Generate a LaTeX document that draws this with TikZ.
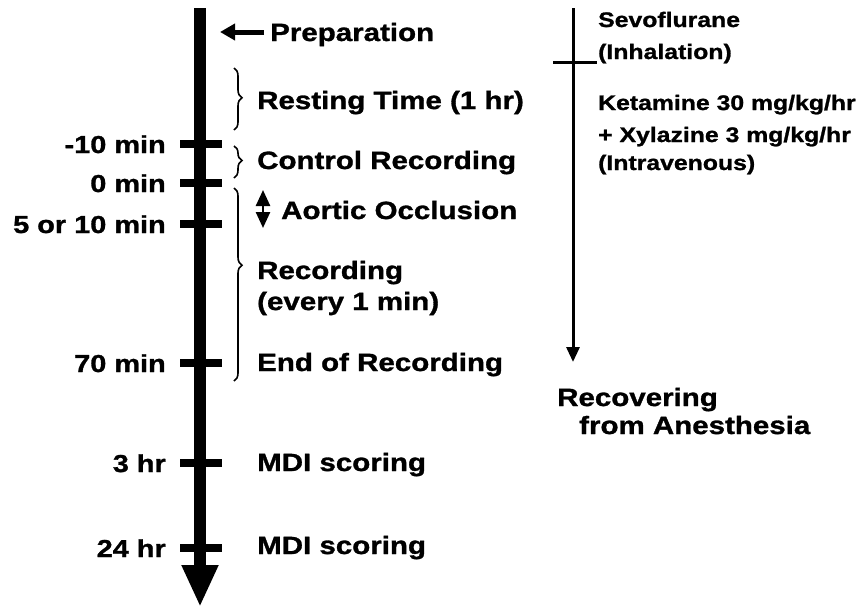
\documentclass[tikz,border=0pt]{standalone}
\usepackage{fontspec}
\setmainfont{Liberation Sans}[FakeStretch=1.18,FakeBold=1.2]
\usetikzlibrary{arrows.meta,decorations.pathreplacing}
\begin{document}
\begin{tikzpicture}[x=1pt,y=-1pt,
  lbl/.style={font=\bfseries\fontsize{25}{30}\selectfont, inner sep=0pt, anchor=base west},
  tlbl/.style={font=\bfseries\fontsize{24.5}{30}\selectfont, inner sep=0pt, anchor=base east},
  rlbl/.style={font=\bfseries\fontsize{21}{26}\selectfont, inner sep=0pt, anchor=base west},
  tickbar/.style={line width=8pt},
  brc/.style={decorate, line width=1.6pt}]
\useasboundingbox (0,0) rectangle (865,611);

% main timeline
\coordinate (mtop) at (200,8);
\coordinate (mend) at (200,607);
\draw[line width=12pt, -{Triangle[length=42pt,width=34pt]}] (mtop) -- (mend);

% ticks
\draw[tickbar] (180,144) -- (222,144);
\draw[tickbar] (180,183) -- (222,183);
\draw[tickbar] (180,224) -- (222,224);
\draw[tickbar] (180,363) -- (222,363);
\draw[tickbar] (180,463) -- (222,463);
\draw[tickbar] (180,548) -- (222,548);

% left time labels
\node[tlbl] (m10) at (166,153) {-10 min};
\node[tlbl] (m0) at (166,192) {0 min};
\node[tlbl] (m5) at (166,233) {5 or 10 min};
\node[tlbl] (m70) at (166,372) {70 min};
\node[tlbl] (h3) at (166,472) {3 hr};
\node[tlbl] (h24) at (166,557) {24 hr};

% preparation
\node[lbl] (prep) at (270,41) {Preparation};
\coordinate (prepTip) at (220,32);
\draw[line width=5pt, -{Triangle[length=15pt,width=16pt]}] (prep.west |- prepTip) ++(-6,0) -- (prepTip);

% braces
\draw[brc, decoration={brace, amplitude=8pt, aspect=0.48}] (234,68) -- (234,130);
\draw[brc, decoration={brace, amplitude=8pt, aspect=0.45}] (234,146) -- (234,178);
\draw[brc, decoration={brace, amplitude=8pt, aspect=0.40}] (234,188) -- (234,381);

% right-hand labels
\node[lbl] (rest) at (257,109) {Resting Time (1 hr)};
\node[lbl] (ctrl) at (257,169) {Control Recording};
\node[lbl] (aort) at (281,219) {Aortic Occlusion};
\coordinate (occA) at (263,190);
\coordinate (occB) at (263,228);
\draw[line width=2.5pt, {Triangle[length=16pt,width=14pt]}-{Triangle[length=16pt,width=14pt]}] (occA) -- (occB);
\node[lbl] (rec1) at (257,279) {Recording};
\node[lbl] (rec2) at (257,310) {(every 1 min)};
\node[lbl] (endrec) at (257,371) {End of Recording};
\node[lbl] (mdi1) at (257,471) {MDI scoring};
\node[lbl] (mdi2) at (257,554) {MDI scoring};

% anesthesia timeline
\coordinate (rtop) at (573,8);
\coordinate (rend) at (573,362);
\draw[line width=3pt, -{Triangle[length=15pt,width=13pt]}] (rtop) -- (rend);
\coordinate (rtl) at (553,62);
\coordinate (rtr) at (597,62);
\draw[line width=3pt] (rtl) -- (rtr);
\node[rlbl] (sevo1) at (598,27) {Sevoflurane};
\node[rlbl] (sevo2) at (598,59) {(Inhalation)};
\node[rlbl] (ket1) at (598,110) {Ketamine 30 mg/kg/hr};
\node[rlbl] (ket2) at (598,142) {+ Xylazine 3 mg/kg/hr};
\node[rlbl] (ket3) at (598,170) {(Intravenous)};
\node[lbl] (recov1) at (557,406) {Recovering};
\node[lbl] (recov2) at (579,434) {from Anesthesia};
\end{tikzpicture}
\end{document}
